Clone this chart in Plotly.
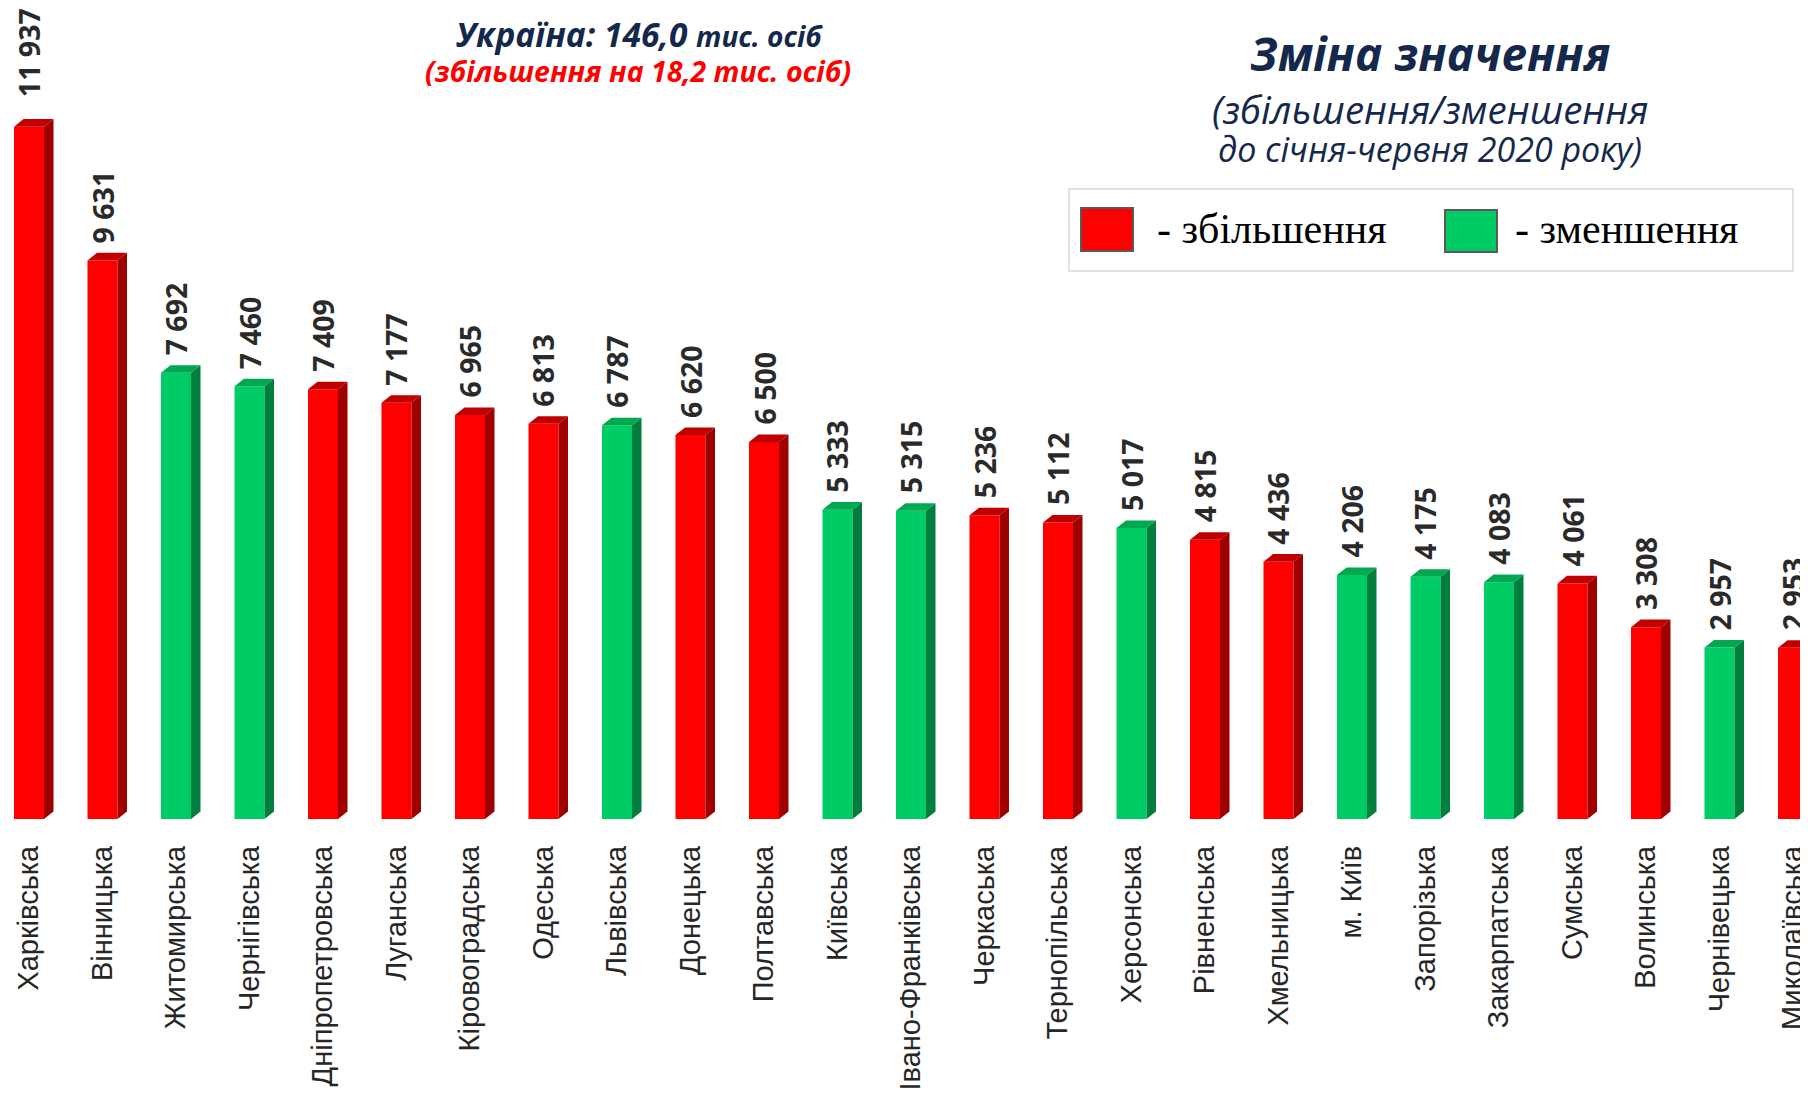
import plotly.graph_objects as go

# ---------------- data ----------------
categories = ["Харківська", "Вінницька", "Житомирська", "Чернігівська", "Дніпропетровська",
              "Луганська", "Кіровоградська", "Одеська", "Львівська", "Донецька", "Полтавська",
              "Київська", "Івано-Франківська", "Черкаська", "Тернопільська", "Херсонська",
              "Рівненська", "Хмельницька", "м. Київ", "Запорізька", "Закарпатська", "Сумська",
              "Волинська", "Чернівецька", "Миколаївська"]
values = [11937, 9631, 7692, 7460, 7409, 7177, 6965, 6813, 6787, 6620, 6500,
          5333, 5315, 5236, 5112, 5017, 4815, 4436, 4206, 4175, 4083, 4061,
          3308, 2957, 2953]
direction = ["up", "up", "down", "down", "up", "up", "up", "up", "down", "up", "up",
             "down", "down", "up", "up", "down", "up", "up", "down", "down", "down", "up",
             "up", "down", "up"]
title_text = "Зміна значення"
subtitle_1 = "(збільшення/зменшення"
subtitle_2 = "до січня-червня 2020 року)"
ukraine_main = "Україна: 146,0"
ukraine_unit = "тис. осіб"
ukraine_note = "(збільшення на 18,2 тис. осіб)"
legend_up = "- збільшення"
legend_down = "- зменшення"

# ---------------- geometry / style ----------------
PAGE_W, PAGE_H = 1808, 1096
OFF = 8                          # default page margin around the figure div
W, H = PAGE_W - OFF, PAGE_H - OFF
BOTTOM_SCREEN = 819.3            # baseline position in the window
BOTTOM = BOTTOM_SCREEN - OFF     # baseline in figure pixels
PX_PER_UNIT_Y = 0.0580
PX_PER_CAT = 73.5
FIRST_CENTER = 29 - OFF

FRONT = {"up": "#ff0000", "down": "#00cc66"}
TOP = {"up": "#c00000", "down": "#00a852"}
SIDE = {"up": "#9e0000", "down": "#007e3d"}
NAVY = "#14284b"

bar_w = 30 / PX_PER_CAT
dx = 9.5 / PX_PER_CAT
dy = 7.6 / PX_PER_UNIT_Y

x_idx = list(range(len(categories)))
x0 = -FIRST_CENTER / PX_PER_CAT
x1 = x0 + W / PX_PER_CAT
b_margin = round(H - BOTTOM)
plot_h = H - b_margin
y_max = plot_h / PX_PER_UNIT_Y

fig = go.Figure()

fig.add_trace(go.Bar(
    x=x_idx, y=values, width=bar_w,
    marker=dict(color=[FRONT[d] for d in direction], line=dict(width=0)),
    hoverinfo="skip", showlegend=False))

for kind in ("up", "down"):
    sx, sy, tx, ty = [], [], [], []
    for i, v, d in zip(x_idx, values, direction):
        if d != kind:
            continue
        xl, xr = i - bar_w / 2, i + bar_w / 2
        sx += [xr, xr + dx, xr + dx, xr, xr, None]
        sy += [0, dy, v + dy, v, 0, None]
        tx += [xl, xl + dx, xr + dx, xr, xl, None]
        ty += [v, v + dy, v + dy, v, v, None]
    fig.add_trace(go.Scatter(x=sx, y=sy, mode="lines", fill="toself",
                             fillcolor=SIDE[kind], line=dict(width=0, color=SIDE[kind]),
                             hoverinfo="skip", showlegend=False))
    fig.add_trace(go.Scatter(x=tx, y=ty, mode="lines", fill="toself",
                             fillcolor=TOP[kind], line=dict(width=0, color=TOP[kind]),
                             hoverinfo="skip", showlegend=False))

# the first (tallest) value label sits a little higher in the original
label_extra_shift = {0: 12}

annotations = []
for i, v in zip(x_idx, values):
    annotations.append(dict(
        x=i, y=v, xref="x", yref="y", text=f"{v:,}".replace(",", " "),
        textangle=-90, showarrow=False, xanchor="center", yanchor="bottom",
        yshift=16 + label_extra_shift.get(i, 0), xshift=0, borderpad=0,
        font=dict(family="Open Sans", size=28.5, color="#2a2a2a", weight="bold")))


def px(xs):
    """screen x -> paper"""
    return (xs - OFF) / W


def py(ys):
    """screen y -> paper"""
    return (plot_h - (ys - OFF)) / plot_h


def txt(text, xs, ys, size, color, family="Open Sans", bold=False, italic=False,
        xanchor="center"):
    return dict(x=px(xs), y=py(ys), xref="paper", yref="paper", text=text,
                showarrow=False, xanchor=xanchor, yanchor="middle",
                font=dict(family=family, size=size, color=color,
                          weight="bold" if bold else "normal",
                          style="italic" if italic else "normal"))


annotations += [
    txt(title_text, 1430, 53.5, 46, NAVY, bold=True, italic=True),
    txt(subtitle_1, 1430, 109, 38.5, NAVY, italic=True),
    txt(subtitle_2, 1430, 149.5, 34, NAVY, italic=True),
    txt(f"{ukraine_main} <span style='font-size:28px'>{ukraine_unit}</span>",
        639, 34, 33.5, NAVY, bold=True, italic=True),
    txt(ukraine_note, 638, 71, 28.5, "#ff0000", bold=True, italic=True),
    txt(legend_up, 1155, 229, 42, "#000000", family="Liberation Serif", xanchor="left"),
    txt(legend_down, 1513, 229, 42, "#000000", family="Liberation Serif", xanchor="left"),
]

shapes = [
    dict(type="rect", xref="paper", yref="paper", x0=px(1069), x1=px(1793),
         y0=py(271), y1=py(189), line=dict(color="#d9d9d9", width=1.5), fillcolor="white",
         layer="below"),
    dict(type="rect", xref="paper", yref="paper", x0=px(1081), x1=px(1133),
         y0=py(251), y1=py(208), line=dict(color="#595959", width=2), fillcolor=FRONT["up"]),
    dict(type="rect", xref="paper", yref="paper", x0=px(1445), x1=px(1497),
         y0=py(252), y1=py(210), line=dict(color="#595959", width=2), fillcolor=FRONT["down"]),
]

fig.update_layout(
    width=W, height=H,
    margin=dict(l=0, r=0, t=0, b=b_margin, autoexpand=False),
    paper_bgcolor="white", plot_bgcolor="white",
    showlegend=False,
    annotations=annotations, shapes=shapes,
    xaxis=dict(range=[x0, x1], tickmode="array", tickvals=x_idx, ticktext=categories,
               tickangle=-90, showgrid=False, zeroline=False, showline=False,
               ticks="", ticklabelstandoff=20, ticklabeloverflow="allow",
               automargin=False,
               tickfont=dict(family="Liberation Sans", size=29, color="#262626")),
    yaxis=dict(range=[0, y_max], visible=False, automargin=False),
)

fig.write_html("out.html")
